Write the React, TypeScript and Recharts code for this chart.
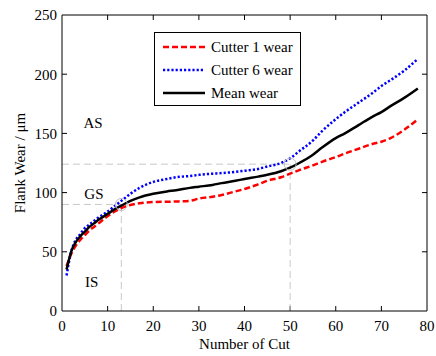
import { LineChart, Line, XAxis, YAxis, ReferenceLine, ReferenceDot, Legend } from 'recharts';

const FONT = '"Liberation Serif", "Times New Roman", serif';

const cuts = [1, 2, 3, 4, 5, 6, 7, 8, 10, 12, 13, 15, 17, 20, 23, 25, 28, 30, 33, 35, 38, 40, 43, 45, 48, 50, 52, 55, 57, 60, 62, 65, 68, 70, 72, 75, 78];
const cutter1Wear = [38, 48, 55, 60, 64, 68, 71, 74, 80, 85, 87, 89.5, 91, 92, 92.3, 92.5, 93, 95, 96.5, 98, 101, 103, 107, 110, 113, 116, 119, 123, 126, 130, 133, 137, 141, 143, 146, 153, 162];
const cutter6Wear = [30, 50, 60, 65, 70, 73, 76, 79, 84, 90, 93, 99, 104, 109, 111.5, 113, 114, 115, 116, 116.5, 117.5, 118.5, 120, 122, 125, 129, 135, 144, 152, 162, 168, 176, 184, 190, 195, 203, 213];
const meanWear = [35, 50, 58, 63, 67, 71, 74, 77, 82, 87, 89, 93, 96, 99, 101, 102, 104, 105, 106.5, 108, 110, 111.5, 113.5, 115, 118, 121, 125, 132, 138, 146, 150, 157, 164, 168, 173, 180, 188];

const xTicks = [0, 10, 20, 30, 40, 50, 60, 70, 80];
const yTicks = [0, 50, 100, 150, 200, 250];
const X_MAX = 80;
const Y_MAX = 250;

// stage boundaries (cut, wear)
const transitionCuts = [13, 50];
const transitionWear = [90, 124];

const stageNames = ['AS', 'GS', 'IS'];
const stageCuts = [6.8, 7, 6.5];
const stageWear = [159, 99.5, 24.5];

const rows = cuts.map((c, i) => ({
  cut: c,
  cutter1: cutter1Wear[i],
  cutter6: cutter6Wear[i],
  mean: meanWear[i],
}));

// inward tick length, in data units (~5px)
const X_TICK_LEN = 1.1;
const Y_TICK_LEN = 4.2;

const tickStyle = { fill: '#000', fontSize: 15, fontFamily: FONT };

function YTitle() {
  return (
    <text x={20} y={163} transform="rotate(-90 20 163)" textAnchor="middle" dominantBaseline="central"
      fontFamily={FONT} fontSize={15} fill="#000">
      Flank Wear / μm
    </text>
  );
}

function XTitle() {
  return (
    <text x={244.5} y={349} textAnchor="middle" fontFamily={FONT} fontSize={15} fill="#000">
      Number of Cut
    </text>
  );
}

const renderLegend = (props: any) => (
  <div style={{
    border: '1px solid #000', background: '#fff', width: 147, height: 74, boxSizing: 'border-box',
    padding: '2.5px 0 0 8px', fontFamily: FONT, fontSize: 15, color: '#000',
  }}>
    {(props.payload || []).map((entry: any) => (
      <div key={entry.value} style={{ display: 'flex', alignItems: 'center', height: 23 }}>
        <svg width={42} height={6} style={{ display: 'block' }}>
          <line x1={0} y1={3} x2={42} y2={3} stroke={entry.color} strokeWidth={2.5}
            strokeDasharray={entry.payload?.strokeDasharray} />
        </svg>
        <span style={{ marginLeft: 6, lineHeight: '23px' }}>{entry.value}</span>
      </div>
    ))}
  </div>
);

const innerX = xTicks.filter((t) => t > 0 && t < X_MAX);
const innerY = yTicks.filter((t) => t > 0 && t < Y_MAX);

export default function App() {
  return (
    <div style={{ width: 436, height: 356, background: '#fff' }}>
      <style>{'body{margin:0}'}</style>
      <LineChart width={436} height={356} data={rows} margin={{ top: 15, right: 9, bottom: 0, left: 0 }}>
        <XAxis dataKey="cut" type="number" domain={[0, X_MAX]} ticks={xTicks} interval={0}
          height={45} tickSize={0} tickMargin={9} tick={tickStyle} tickLine={false}
          axisLine={{ stroke: '#000' }} label={<XTitle />} />
        <YAxis type="number" domain={[0, Y_MAX]} ticks={yTicks} interval={0} width={62}
          tickSize={0} tickMargin={5} tick={tickStyle} tickLine={false}
          axisLine={{ stroke: '#000' }} label={<YTitle />} />

        {/* box frame: top and right edges */}
        <ReferenceLine y={Y_MAX} stroke="#000000" strokeWidth={1} ifOverflow="visible" />
        <ReferenceLine x={X_MAX} stroke="#000000" strokeWidth={1} ifOverflow="visible" />

        {/* inward ticks on all four sides */}
        {innerX.map((t) => (
          <ReferenceLine key={`b${t}`} ifOverflow="visible" stroke="#000000" strokeWidth={1}
            segment={[{ x: t, y: 0 }, { x: t, y: Y_TICK_LEN }]} />
        ))}
        {innerX.map((t) => (
          <ReferenceLine key={`t${t}`} ifOverflow="visible" stroke="#000000" strokeWidth={1}
            segment={[{ x: t, y: Y_MAX - Y_TICK_LEN }, { x: t, y: Y_MAX }]} />
        ))}
        {innerY.map((t) => (
          <ReferenceLine key={`l${t}`} ifOverflow="visible" stroke="#000000" strokeWidth={1}
            segment={[{ x: 0, y: t }, { x: X_TICK_LEN, y: t }]} />
        ))}
        {innerY.map((t) => (
          <ReferenceLine key={`r${t}`} ifOverflow="visible" stroke="#000000" strokeWidth={1}
            segment={[{ x: X_MAX - X_TICK_LEN, y: t }, { x: X_MAX, y: t }]} />
        ))}

        <ReferenceLine segment={[{ x: 0, y: transitionWear[0] }, { x: transitionCuts[0], y: transitionWear[0] }]}
          stroke="#c8c8c8" strokeDasharray="7 4" />
        <ReferenceLine segment={[{ x: transitionCuts[0], y: 0 }, { x: transitionCuts[0], y: transitionWear[0] }]}
          stroke="#c8c8c8" strokeDasharray="7 4" />
        <ReferenceLine segment={[{ x: 0, y: transitionWear[1] }, { x: transitionCuts[1], y: transitionWear[1] }]}
          stroke="#c8c8c8" strokeDasharray="7 4" />
        <ReferenceLine segment={[{ x: transitionCuts[1], y: 0 }, { x: transitionCuts[1], y: transitionWear[1] }]}
          stroke="#c8c8c8" strokeDasharray="7 4" />

        {stageNames.map((name, i) => (
          <ReferenceDot key={name} x={stageCuts[i]} y={stageWear[i]} r={0} fill="none" stroke="none"
            label={{ value: name, position: 'center', fill: '#000', fontSize: 15, fontFamily: FONT }} />
        ))}

        <Line type="monotone" dataKey="cutter1" name="Cutter 1 wear" stroke="#ff0000" strokeWidth={2.5}
          strokeDasharray="6 3" dot={false} activeDot={false} isAnimationActive={false} />
        <Line type="monotone" dataKey="cutter6" name="Cutter 6 wear" stroke="#0000ff" strokeWidth={2.5}
          strokeDasharray="2.2 2" dot={false} activeDot={false} isAnimationActive={false} />
        <Line type="monotone" dataKey="mean" name="Mean wear" stroke="#000000" strokeWidth={2.5}
          dot={false} activeDot={false} isAnimationActive={false} />

        {transitionCuts.map((c, i) => (
          <ReferenceDot key={`c${c}`} x={c} y={transitionWear[i]} r={6} fill="none" stroke="#bdbdbd" strokeWidth={1}
            ifOverflow="visible" />
        ))}

        <Legend layout="vertical" verticalAlign="middle" align="center" width={147} height={74}
          wrapperStyle={{ left: 154, top: 32, width: 147, height: 74 }} content={renderLegend} />
      </LineChart>
    </div>
  );
}
